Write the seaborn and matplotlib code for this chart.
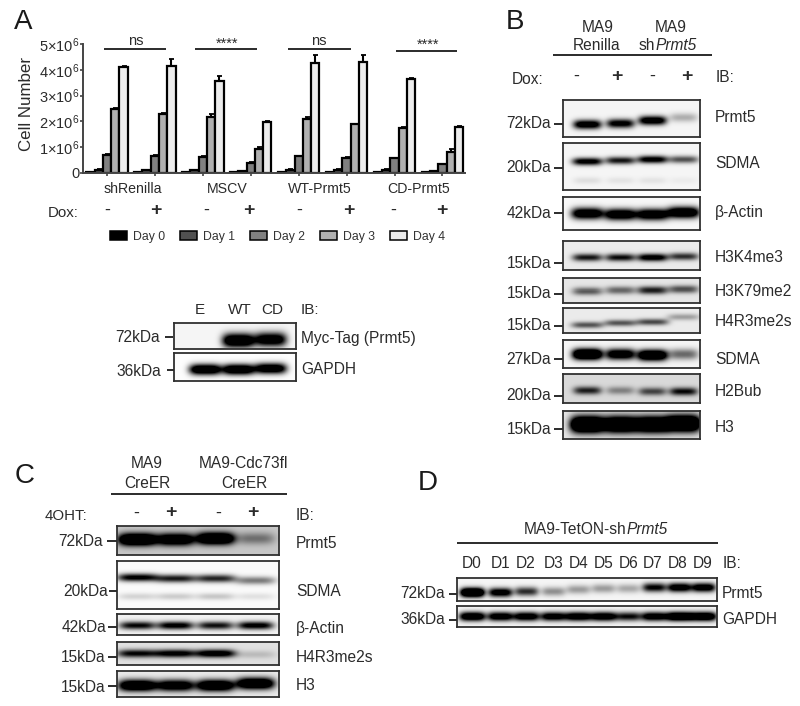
import numpy as np
import pandas as pd
import matplotlib
matplotlib.use("Agg")
import matplotlib.pyplot as plt
from matplotlib.patches import Patch
import seaborn as sns

# ---------- data: panel A ----------
conditions = ["shRenilla-", "shRenilla+", "MSCV-", "MSCV+", "WT-", "WT+", "CD-", "CD+"]
days = ["Day 0", "Day 1", "Day 2", "Day 3", "Day 4"]
day0 = [0.03, 0.03, 0.03, 0.03, 0.03, 0.03, 0.03, 0.03]
day1 = [0.13, 0.10, 0.10, 0.07, 0.12, 0.12, 0.12, 0.07]
day2 = [0.70, 0.67, 0.63, 0.38, 0.65, 0.60, 0.57, 0.33]
day3 = [2.50, 2.30, 2.17, 0.93, 2.10, 1.88, 1.75, 0.80]
day4 = [4.10, 4.15, 3.55, 1.97, 4.27, 4.32, 3.65, 1.80]
err0 = [0.01, 0.01, 0.01, 0.01, 0.01, 0.01, 0.01, 0.01]
err1 = [0.02, 0.02, 0.02, 0.01, 0.02, 0.02, 0.02, 0.01]
err2 = [0.03, 0.03, 0.02, 0.03, 0.02, 0.02, 0.03, 0.03]
err3 = [0.02, 0.03, 0.12, 0.06, 0.06, 0.02, 0.02, 0.12]
err4 = [0.05, 0.25, 0.20, 0.03, 0.30, 0.25, 0.03, 0.04]
day_colors = ["#000000", "#505050", "#808080", "#b0b0b0", "#ececec"]

# ---------- data: relative band intensities per lane ----------
myc = [0.0, 1.5, 1.3]
gapdh_a = [1.5, 1.5, 1.4]
b_prmt5 = [1.25, 1.1, 1.25, 0.28]
b_sdma20 = [1.1, 0.9, 1.1, 0.65]
b_sdma20_low = [0.09, 0.07, 0.07, 0.04]
b_actin = [1.4, 1.4, 1.4, 1.5]
b_k4 = [0.85, 0.9, 1.1, 0.75]
b_k79 = [0.55, 0.5, 0.8, 0.6]
b_r3 = [0.6, 0.6, 0.65, 0.3]
b_sdma27 = [1.8, 1.3, 1.6, 0.55]
b_h2bub = [0.75, 0.35, 0.6, 0.85]
b_h3 = [2.0, 1.8, 1.8, 2.0]
c_prmt5 = [1.6, 1.3, 1.5, 0.35]
c_sdma = [1.05, 0.9, 0.85, 0.5]
c_sdma_low = [0.15, 0.18, 0.2, 0.1]
c_actin = [0.95, 1.05, 0.9, 1.05]
c_r3 = [0.9, 1.0, 1.1, 0.15]
c_h3 = [1.5, 1.3, 1.5, 1.55]
d_prmt5 = [1.9, 1.2, 0.8, 0.4, 0.35, 0.35, 0.3, 1.0, 1.25, 1.25]
d_gapdh = [1.4, 1.25, 1.25, 1.2, 1.3, 1.3, 0.95, 1.25, 1.6, 1.5]

# ---------- style ----------
W, H = 800, 706
sns.set_theme(style="white")
plt.rcParams["font.family"] = ["Liberation Sans", "DejaVu Sans"]
plt.rcParams["mathtext.fontset"] = "custom"
plt.rcParams["mathtext.rm"] = "Liberation Sans"
plt.rcParams["mathtext.it"] = "Liberation Sans:italic"
plt.rcParams["mathtext.default"] = "regular"
INK = "#2b2b2b"

fig = plt.figure(figsize=(W / 100, H / 100), dpi=100, facecolor="white")


def px_axes(l, t, r, b, **kw):
    return fig.add_axes([l / W, 1 - b / H, (r - l) / W, (b - t) / H], **kw)


# ---------- panel A bars ----------
ax = px_axes(83, 44, 465, 173)
rows = []
for d, vals in zip(days, [day0, day1, day2, day3, day4]):
    rows += [{"cond": c, "day": d, "val": v * 1e6} for c, v in zip(conditions, vals)]
df = pd.DataFrame(rows)
sns.barplot(data=df, x="cond", y="val", hue="day", order=conditions, hue_order=days,
            palette=day_colors, width=0.865, gap=0, errorbar=None, saturation=1,
            edgecolor="black", linewidth=1.6, legend=False, ax=ax)
for cont, errs in zip(ax.containers, [err0, err1, err2, err3, err4]):
    xs = [p.get_x() + p.get_width() / 2 for p in cont]
    ys = [p.get_height() for p in cont]
    ax.errorbar(xs, ys, yerr=[np.zeros(len(errs)), np.array(errs) * 1e6], fmt="none",
                ecolor="black", elinewidth=1.5, capsize=1.8, capthick=1.3)
ax.set_xlim(-0.5, 7.47)
ax.set_ylim(0, 5e6)
ax.set_yticks([0, 1e6, 2e6, 3e6, 4e6, 5e6])
ax.set_yticklabels(["0"] + [f"{i}×10$^{{6}}$" for i in range(1, 6)], fontsize=10.5, color=INK)
ax.set_xticks(range(8))
ax.set_xticklabels([""] * 8)
ax.tick_params(axis="both", length=2.5, width=1.2, color="#444444", pad=0, left=True, bottom=True)
ax.set_xlabel("")
ax.set_ylabel("")
sns.despine(ax=ax)
for s in ("left", "bottom"):
    ax.spines[s].set_linewidth(1.4)
    ax.spines[s].set_color("#444444")
ax.patch.set_alpha(0)
leg = ax.legend(
    handles=[Patch(facecolor=c, edgecolor="black", linewidth=1.1, label=d) for c, d in zip(day_colors, days)],
    ncol=5, loc="upper left", bbox_to_anchor=(110 / W, 1 - 231 / H), bbox_transform=fig.transFigure,
    frameon=False, fontsize=8.8, labelcolor="#333333", handlelength=1.4, handleheight=0.8,
    handletextpad=0.5, columnspacing=1.2, borderpad=0, borderaxespad=0)


# ---------- blots ----------
def blot(box, lanes, ys, ints, hh, hw, bg=0.04, low=None, low_y=None):
    l, t, r, b = box
    ax_b = px_axes(l, t, r, b)
    yy, xx = np.mgrid[t:b:0.5, l:r:0.5]
    img = np.full(xx.shape, float(bg))
    for cx, cy, v in zip(lanes, ys, ints):
        img += v * np.exp(-((xx - cx) / (hw + 1)) ** 4) * np.exp(-((yy - cy) / (hh * 1.25)) ** 2)
    if low is not None:
        for cx, v in zip(lanes, low):
            img += v * np.exp(-((xx - cx) / hw) ** 4) * np.exp(-((yy - low_y) / 3.5) ** 2)
    sns.heatmap(np.clip(img, 0, 1), ax=ax_b, cmap="gray_r", vmin=0, vmax=1, cbar=False,
                xticklabels=False, yticklabels=False, rasterized=True)
    for s in ax_b.spines.values():
        s.set_visible(True)
        s.set_linewidth(1.3)
        s.set_color("#303030")


lanes_a = [205, 238, 270]
blot((174, 323, 296, 349), lanes_a, [340, 340, 339], myc, 5.5, 15)
blot((174, 353, 296, 381), lanes_a, [369, 369, 368], gapdh_a, 4.2, 15, bg=0.01)

lanes_b = [587, 620, 652, 683]
blot((563, 100, 700, 137), lanes_b, [124, 123, 120, 117], b_prmt5, 3.6, 13)
blot((563, 143, 700, 190), lanes_b, [161, 160, 159, 159], b_sdma20, 3.0, 14, low=b_sdma20_low, low_y=180)
blot((563, 197, 700, 230), lanes_b, [213, 214, 214, 212], b_actin, 4.5, 15, bg=0.03)
blot((563, 241, 700, 270), lanes_b, [257, 257, 257, 256], b_k4, 3.0, 14, bg=0.08)
blot((563, 278, 700, 303), lanes_b, [291, 290, 290, 289], b_k79, 3.0, 14, bg=0.1)
blot((563, 308, 700, 333), lanes_b, [325, 323, 322, 317], b_r3, 2.6, 15, bg=0.08)
blot((563, 340, 700, 368), lanes_b, [354, 354, 355, 354], b_sdma27, 4.2, 14, bg=0.04)
blot((563, 374, 700, 403), lanes_b, [390, 390, 391, 391], b_h2bub, 3.2, 13, bg=0.15)
blot((563, 411, 700, 439), lanes_b, [424, 424, 424, 423], b_h3, 6.5, 16, bg=0.1)

lanes_c = [137, 175, 215, 255]
blot((117, 526, 279, 555), lanes_c, [539, 539, 538, 538], c_prmt5, 4.8, 18, bg=0.22)
blot((117, 561, 279, 609), lanes_c, [577, 578, 578, 580], c_sdma, 3.2, 19, bg=0.02, low=c_sdma_low, low_y=596)
blot((117, 614, 279, 635), lanes_c, [625, 625, 625, 625], c_actin, 3.2, 17, bg=0.05)
blot((117, 642, 279, 665), lanes_c, [653, 653, 653, 654], c_r3, 3.2, 19, bg=0.12)
blot((117, 671, 279, 697), lanes_c, [685, 685, 685, 683], c_h3, 4.6, 18, bg=0.08)

lanes_d = [472, 500, 526, 553, 578, 603, 628, 654, 679, 703]
blot((457, 578, 717, 601), lanes_d, [592, 592, 591, 591, 589, 588, 588, 587, 587, 587], d_prmt5, 3.6, 11)
blot((457, 606, 717, 627), lanes_d, [616] * 10, d_gapdh, 3.6, 12, bg=0.04)

# ---------- overlay: labels and rules ----------
ov = fig.add_axes([0, 0, 1, 1], zorder=10)
ov.set_xlim(0, W)
ov.set_ylim(H, 0)
ov.axis("off")
ov.patch.set_alpha(0)


def T(x, y, s, ha="center", fs=11.2, **kw):
    ov.text(x, y + 1, s, ha=ha, va="center", fontsize=fs, color=INK, **kw)


def L(x0, x1, y, lw=1.4):
    ov.plot([x0, x1], [y, y], color="#2b2b2b", lw=lw, solid_capstyle="butt")


def sign(x, y, s):
    T(x, y, "+" if s == "+" else "-", fs=14 if s == "+" else 13,
      fontweight="bold" if s == "+" else "normal")


for x, y, s in [(23, 22, "A"), (515, 22, "B"), (25, 476, "C"), (428, 483, "D")]:
    ov.text(x, y, s, ha="center", va="center", fontsize=20, color="#1a1a1a")

# panel A
T(27, 103, "Cell Number", fs=12.2, rotation=90)
for x, s in [(133, "shRenilla"), (227, "MSCV"), (320, "WT-Prmt5"), (419, "CD-Prmt5")]:
    T(x, 188, s, fs=10.2)
T(63, 212, "Dox:", fs=10.8)
for x, s in zip([107, 156, 206, 249, 299, 349, 393, 442], "-+-+-+-+"):
    sign(x, 209, s)
for x0, x1, y, tx, ty, s in [(104, 166, 49, 136, 40, "ns"), (195, 257, 49, 227, 43, "****"),
                             (288, 351, 49, 319, 40, "ns"), (396, 457, 51, 428, 44, "****")]:
    L(x0, x1, y)
    T(tx, ty, s, fs=10.5)

for x, s in [(200, "E"), (240, "WT"), (272, "CD")]:
    T(x, 309, s, fs=11)
T(301, 309, "IB:", ha="left", fs=11)
T(160, 336, "72kDa", ha="right")
T(161, 370, "36kDa", ha="right")
L(165, 173, 337)
L(167, 174, 370)
T(301, 338, "Myc-Tag (Prmt5)", ha="left")
T(301, 369, "GAPDH", ha="left")

# panel B
T(598, 26, "MA9")
T(597, 45, "Renilla")
T(671, 26, "MA9")
T(655.5, 45, "sh", ha="right")
T(655.5, 45, "Prmt5", ha="left", fontstyle="italic")
L(553, 712, 55)
T(528, 79, "Dox:")
for x, s in zip([576, 617, 652, 687], "-+-+"):
    sign(x, 75, s)
T(716, 76, "IB:", ha="left")
for y, ty, s in [(122, 124, "72kDa"), (166, 168, "20kDa"), (212, 213, "42kDa"), (262, 263, "15kDa"),
                 (292, 294, "15kDa"), (325, 326, "15kDa"), (358, 359, "27kDa"), (395, 396, "20kDa"),
                 (428, 429, "15kDa")]:
    T(551, y, s, ha="right")
    L(554, 563, ty)
for y, s in [(116, "Prmt5"), (163, "SDMA"), (212, "β-Actin"), (256, "H3K4me3"), (290, "H3K79me2"),
             (320, "H4R3me2s"), (358, "SDMA"), (391, "H2Bub"), (426, "H3")]:
    T(715, y, s, ha="left")

# panel C
T(147, 463, "MA9")
T(147, 483, "CreER")
T(244, 463, "MA9-Cdc73fl")
T(244, 483, "CreER")
L(111, 287, 494)
T(66, 515, "4OHT:", fs=10.8)
for x, s in zip([136, 171, 218, 253], "-+-+"):
    sign(x, 512, s)
T(296, 514, "IB:", ha="left")
for xr, xt, y, s in [(103, 107, 541, "72kDa"), (108, 109, 591, "20kDa"), (106, 108, 627, "42kDa"),
                     (105, 108, 657, "15kDa"), (105, 108, 686, "15kDa")]:
    T(xr, y, s, ha="right")
    L(xt, 117, y)
for y, s in [(542, "Prmt5"), (590, "SDMA"), (627, "β-Actin"), (656, "H4R3me2s"), (685, "H3")]:
    T(296, y, s, ha="left")

# panel D
T(626.5, 528, "MA9-TetON-sh", ha="right")
T(626.5, 528, "Prmt5", ha="left", fontstyle="italic")
L(457, 718, 543)
for x, s in zip([472, 501, 526, 554, 579, 604, 629, 653, 678, 703], [f"D{i}" for i in range(10)]):
    T(x, 562, s)
T(723, 563, "IB:", ha="left")
T(445, 592, "72kDa", ha="right")
T(445, 619, "36kDa", ha="right")
L(449, 457, 594)
L(449, 457, 620)
T(722, 592, "Prmt5", ha="left")
T(722, 618, "GAPDH", ha="left")

fig.savefig("out.png", dpi=100, facecolor="white")
